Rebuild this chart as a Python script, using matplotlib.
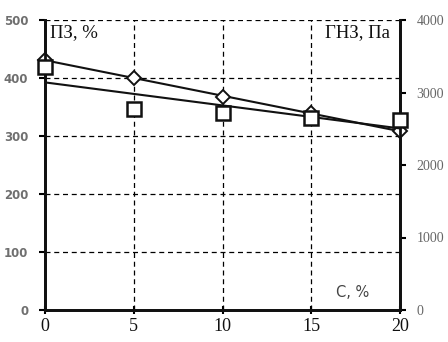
import numpy as np
import matplotlib
matplotlib.use("Agg")
import matplotlib.pyplot as plt

conc = [0, 5, 10, 15, 20]
pz_values = [431, 400, 368, 340, 308]        # ПЗ, % (diamonds, left axis)
gnz_values = [3352, 2772, 2717, 2648, 2620]  # ГНЗ, Па (squares, right axis)
x_ticks = [0, 5, 10, 15, 20]
left_ticks = [0, 100, 200, 300, 400, 500]
right_ticks = [0, 1000, 2000, 3000, 4000]

fig = plt.figure(figsize=(4.48, 3.42), dpi=100)
ax = fig.add_axes([45/448, 1-310/342, 355/448, 290/342])
ax2 = ax.twinx()

serif = "Liberation Serif"

ax.set_xlim(0, 20)
ax.set_ylim(0, 500)
ax2.set_ylim(0, 4000)

# grid
for v in [100, 200, 300, 400, 500]:
    ax.axhline(v, color="black", lw=0.9, ls=(0, (4, 3)), zorder=1)
for v in [5, 10, 15]:
    ax.axvline(v, color="black", lw=0.9, ls=(0, (4, 3)), zorder=1)

# trend lines
c = np.array(conc, dtype=float)
p1 = np.polyfit(c, pz_values, 1)
ax.plot(c, np.polyval(p1, c), color="#111111", lw=1.5, zorder=3)
p2 = np.polyfit(c, gnz_values, 1)
ax2.plot(c, np.polyval(p2, c), color="#111111", lw=1.5, zorder=3)

ax.plot(conc, pz_values, ls="none", marker="D", ms=7, mfc="white", mec="#111111",
        mew=1.4, zorder=4, clip_on=False)
ax2.plot(conc, gnz_values, ls="none", marker="s", ms=10, mfc="white", mec="#111111",
         mew=1.8, zorder=4, clip_on=False)

for a in (ax, ax2):
    a.spines["top"].set_visible(False)
    for s in ("left", "right", "bottom"):
        a.spines[s].set_linewidth(2)
        a.spines[s].set_color("#111111")

ax.set_xticks(x_ticks)
ax.set_xticklabels([str(t) for t in x_ticks], fontfamily=serif, fontsize=13, color="#111111")
ax.set_yticks(left_ticks)
ax.set_yticklabels([str(t) for t in left_ticks], fontfamily="DejaVu Sans", fontsize=8.5,
                   fontweight="bold", color="#6f6f6f")
ax2.set_yticks(right_ticks)
ax2.set_yticklabels([str(t) for t in right_ticks], fontfamily=serif, fontsize=10, color="#666666")

ax.tick_params(axis="x", direction="inout", length=6, width=1.5, pad=3)
ax.tick_params(axis="y", direction="out", length=4, width=1.5, pad=8)
ax2.tick_params(axis="y", direction="out", length=4, width=1.5, pad=8)

ax.text(0.3, 479, "ПЗ, %", fontfamily=serif, fontsize=13.5, color="#111111", va="center", ha="left")
ax.text(19.45, 479, "ГНЗ, Па", fontfamily=serif, fontsize=13.5, color="#111111", va="center", ha="right")
ax.text(18.25, 31, "C, %", fontfamily="DejaVu Sans", fontsize=10.5, color="#444444", va="center", ha="right")

fig.savefig("out.png", dpi=100)
